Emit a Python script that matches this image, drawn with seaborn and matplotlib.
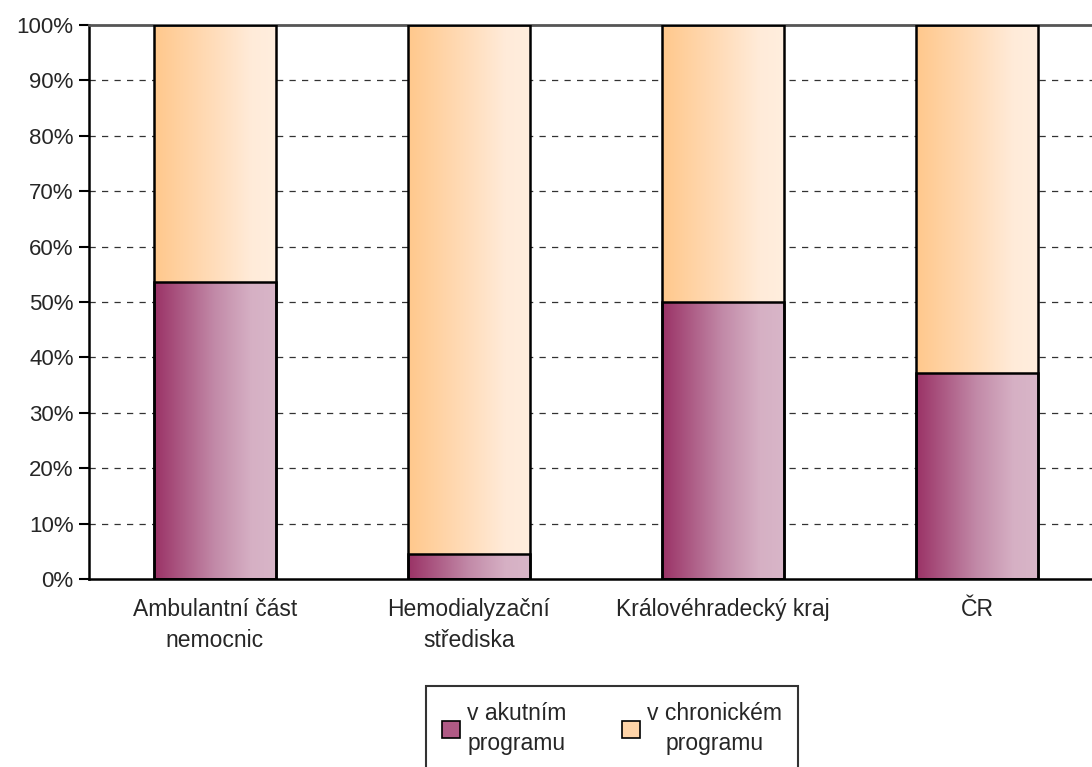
import numpy as np
import pandas as pd
import matplotlib
matplotlib.use("Agg")
import matplotlib.pyplot as plt
from matplotlib.colors import LinearSegmentedColormap
from matplotlib.patches import Patch
import seaborn as sns

# data (percent of patients)
categories = ["Ambulantní část\nnemocnic", "Hemodialyzační\nstřediska",
              "Královéhradecký kraj", "ČR"]
acute = [53.6, 4.6, 50.0, 37.2]
chronic = [100 - v for v in acute]
series_names = ["v akutním\nprogramu", "v chronickém\nprogramu"]
y_ticks = [0, 10, 20, 30, 40, 50, 60, 70, 80, 90, 100]

sns.set_style("white")
plt.rcParams['font.family'] = ['Liberation Sans', 'DejaVu Sans']

df = pd.DataFrame({"cat": categories, "acute": acute,
                   "total": [a + c for a, c in zip(acute, chronic)]})

fig = plt.figure(figsize=(10.92, 7.67), dpi=100)
ax = fig.add_axes([89 / 1092, 1 - 579 / 767, 1 - 89 / 1092, (579 - 25) / 767])

# stacked bars: total (chronic on top) then acute at the bottom
sns.barplot(data=df, x="cat", y="total", ax=ax, width=0.48,
            color="#FFD9B0", edgecolor="black", linewidth=1.8, saturation=1)
n_top = len(ax.patches)
sns.barplot(data=df, x="cat", y="acute", ax=ax, width=0.48,
            color="#B86A90", edgecolor="black", linewidth=1.8, saturation=1)

acute_cmap = LinearSegmentedColormap.from_list(
    "ac", [(0, "#9A3266"), (0.5, "#C28AA8"), (0.8, "#D6B0C4"), (1, "#D8B6C8")])
chron_cmap = LinearSegmentedColormap.from_list(
    "ch", [(0, "#FFC88C"), (0.5, "#FFDDBB"), (0.8, "#FFEBD9"), (1, "#FFEEDE")])
grad = np.linspace(0, 1, 256).reshape(1, -1)

for i, p in enumerate(ax.patches):
    cmap = chron_cmap if i < n_top else acute_cmap
    x0, y0 = p.get_x(), p.get_y()
    w, h = p.get_width(), p.get_height()
    im = ax.imshow(grad, cmap=cmap, aspect="auto",
                   extent=[x0, x0 + w, y0, y0 + h], zorder=p.get_zorder() - 0.1)
    im.set_clip_path(p)
    p.set_facecolor("none")
    p.set_zorder(3)

ax.set_yticks(y_ticks)
ax.set_yticklabels([f"{t}%" for t in y_ticks], fontsize=16)
ax.set_xticks(range(len(categories)))
ax.set_xticklabels(categories, fontsize=16.5, linespacing=1.4)
ax.set_xticks([-0.5, 0.5, 1.5, 2.5, 3.5], minor=True)
ax.tick_params(axis="x", which="major", length=0, pad=14)
ax.tick_params(axis="x", which="minor", length=8, width=1.5, direction="out", color="black")
ax.tick_params(axis="y", length=7, width=1.5, direction="out", color="black", pad=4, left=True)
ax.set_xlabel("")
ax.set_ylabel("")
ax.set_xlim(-0.496, 3.453)
ax.set_ylim(0, 100)

for t in y_ticks[1:-1]:
    ax.axhline(t, color="#333333", linestyle=(0, (5, 5)), linewidth=0.9, zorder=0)

for s in ["left", "bottom"]:
    ax.spines[s].set_color("black")
    ax.spines[s].set_linewidth(1.8)
ax.spines["top"].set_color("#555555")
ax.spines["top"].set_linewidth(2)
ax.spines["right"].set_visible(False)

handles = [Patch(facecolor="#B05A85", edgecolor="black", linewidth=1.2),
           Patch(facecolor="#FFD4A8", edgecolor="black", linewidth=1.2)]
leg = fig.legend(handles, series_names, loc="upper center",
                 bbox_to_anchor=(612 / 1092, 1 - 686 / 767), ncol=2,
                 fontsize=16.5, frameon=True, fancybox=False, borderaxespad=0,
                 handlelength=0.8, handleheight=0.8, handletextpad=0.3,
                 columnspacing=2.4, borderpad=0.7)
leg.get_frame().set_edgecolor("black")
leg.get_frame().set_linewidth(1.5)
for txt in leg.get_texts():
    txt.set_multialignment("center")
    txt.set_linespacing(1.4)

fig.savefig("out.png", dpi=100)
